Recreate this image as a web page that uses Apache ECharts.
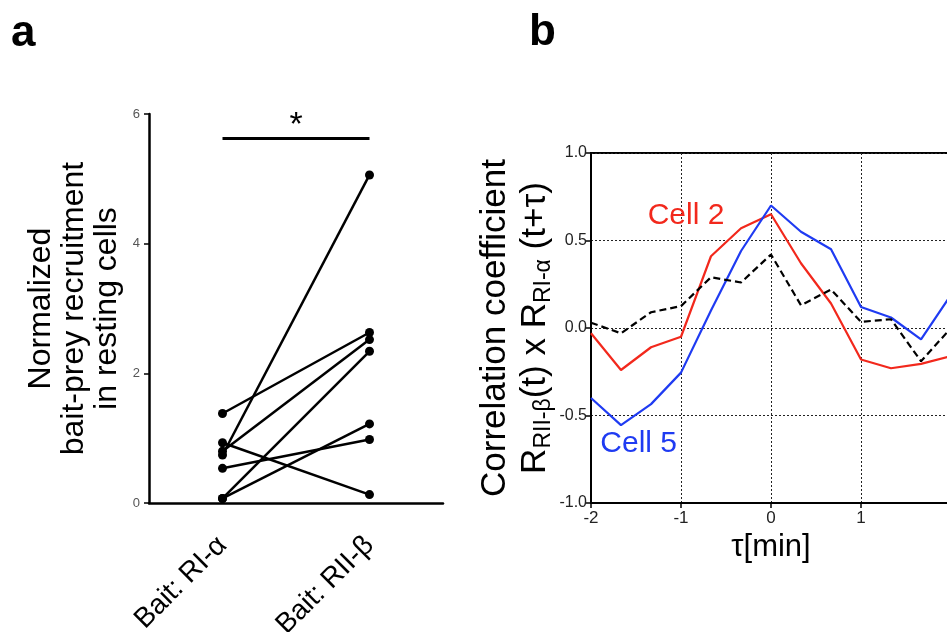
<!DOCTYPE html>
<html><head><meta charset="utf-8">
<script src="https://cdn.jsdelivr.net/npm/echarts@6/dist/echarts.min.js"></script>
<style>html,body{margin:0;padding:0;background:#fff}#c{width:947px;height:632px}</style>
</head><body><div id="c"></div>
<script>
// Panel a data
const baitCategories = ['Bait: RI-\u03b1', 'Bait: RII-\u03b2'];
const recruitRIalpha = [1.38, 0.93, 0.80, 0.74, 0.535, 0.07, 0.07];
const recruitRIIbeta = [2.63, 0.13, 2.52, 5.06, 0.98, 2.34, 1.22];
const significanceY = 5.63;
// Panel b data
const tauMin = [-2, -1.667, -1.333, -1, -0.667, -0.333, 0, 0.333, 0.667, 1, 1.333, 1.667, 2];
const cell2 = [-0.03, -0.24, -0.11, -0.05, 0.41, 0.57, 0.65, 0.37, 0.14, -0.18, -0.23, -0.205, -0.16];
const cell5 = [-0.40, -0.555, -0.435, -0.255, 0.10, 0.44, 0.70, 0.55, 0.45, 0.12, 0.06, -0.065, 0.19];
const meanCorr = [0.03, -0.03, 0.09, 0.125, 0.29, 0.26, 0.42, 0.13, 0.22, 0.035, 0.05, -0.19, 0.0];

const FF = "'Liberation Sans', Arial, Helvetica, sans-serif";
const chart = echarts.init(document.getElementById('c'), null, {renderer: 'canvas'});

const pairSeries = recruitRIalpha.map((v, i) => ({
  type: 'line', xAxisIndex: 0, yAxisIndex: 0,
  data: [v, recruitRIIbeta[i]],
  symbol: 'circle', symbolSize: 9,
  lineStyle: {color: '#000', width: 2.5},
  itemStyle: {color: '#000'},
  silent: true, z: 3
}));
pairSeries[0].markLine = {
  silent: true, symbol: 'none', animation: false,
  lineStyle: {color: '#000', width: 3, type: 'solid'},
  label: {show: true, position: 'middle', formatter: '*', fontSize: 34, color: '#000', fontFamily: FF, distance: -5},
  data: [[{coord: [baitCategories[0], significanceY]}, {coord: [baitCategories[1], significanceY]}]]
};

const bSeries = [
  {name: 'Cell 2', data: cell2, color: '#f2281c', type: 'solid',
   mp: {coord: [-0.944, 0.643], text: 'Cell 2'}},
  {name: 'Cell 5', data: cell5, color: '#1f3bf2', type: 'solid',
   mp: {coord: [-1.47, -0.66], text: 'Cell 5'}},
  {name: 'Mean', data: meanCorr, color: '#000', type: [7, 4]}
].map(s => {
  const o = {
    type: 'line', name: s.name, xAxisIndex: 1, yAxisIndex: 1,
    data: tauMin.map((t, i) => [t, s.data[i]]),
    symbol: 'none', lineStyle: {color: s.color, width: 2.2, type: s.type},
    itemStyle: {color: s.color}, silent: true, z: 3
  };
  if (s.mp) {
    o.markPoint = {
      silent: true, animation: false, symbol: 'rect', symbolSize: 1,
      itemStyle: {color: 'rgba(0,0,0,0)'},
      label: {show: true, position: 'inside', formatter: s.mp.text, color: s.color, fontSize: 30, fontFamily: FF},
      data: [{coord: s.mp.coord}]
    };
  }
  return o;
});

chart.setOption({
  animation: false,
  backgroundColor: '#fff',
  textStyle: {fontFamily: FF},
  grid: [
    {left: 149, top: 114, width: 294, height: 389, outerBoundsMode: 'none'},
    {left: 591, top: 153, width: 360, height: 350, show: true, borderColor: '#000', borderWidth: 2, outerBoundsMode: 'none'}
  ],
  graphic: [
    {type: 'text', left: 11, top: 12, style: {text: 'a', font: "bold 44px 'Liberation Sans Narrow', 'Liberation Sans', Arial", fill: '#000'}},
    {type: 'text', left: 529, top: 11, style: {text: 'b', font: "bold 44px 'Liberation Sans Narrow', 'Liberation Sans', Arial", fill: '#000'}}
  ],
  xAxis: [
    {gridIndex: 0, type: 'category', data: baitCategories, boundaryGap: true,
     axisLine: {lineStyle: {color: '#000', width: 2.5}},
     axisTick: {alignWithLabel: true, length: 7, lineStyle: {color: '#000', width: 2}},
     axisLabel: {rotate: 45, fontSize: 28, color: '#000', fontFamily: FF, margin: 38},
     splitLine: {show: false}},
    {gridIndex: 1, type: 'value', min: -2, max: 2, interval: 1,
     name: '\u03c4[min]', nameLocation: 'middle', nameGap: 28,
     nameTextStyle: {fontSize: 31, color: '#000', fontFamily: FF},
     axisLine: {onZero: false, lineStyle: {color: '#000', width: 2}},
     axisTick: {length: 5, lineStyle: {color: '#000', width: 1.5}},
     axisLabel: {fontSize: 17, color: '#222', fontFamily: FF, margin: 7},
     splitLine: {show: true, lineStyle: {color: '#222', width: 1, type: [2, 2]}}}
  ],
  yAxis: [
    {gridIndex: 0, type: 'value', min: 0, max: 6, interval: 2,
     name: 'Normalized\nbait-prey recruitment\nin resting cells', nameLocation: 'middle', nameRotate: 90, nameGap: 25,
     nameTextStyle: {fontSize: 32, lineHeight: 33, color: '#000', fontFamily: FF},
     axisLine: {show: true, onZero: false, lineStyle: {color: '#000', width: 2.5}},
     axisTick: {show: true, length: 5, lineStyle: {color: '#000', width: 1.5}},
     axisLabel: {fontSize: 13, color: '#555', fontFamily: FF, margin: 9},
     splitLine: {show: false}},
    {gridIndex: 1, type: 'value', min: -1, max: 1, interval: 0.5,
     name: 'Correlation coefficient\n{n|R}{s|RII-\u03b2}{n|(t) x R}{s|RI-\u03b1}{n| (t+\u03c4)}',
     nameLocation: 'middle', nameRotate: 90, nameGap: 32,
     nameTextStyle: {fontSize: 35, lineHeight: 40, color: '#000', fontFamily: FF,
       rich: {
         n: {fontSize: 35, lineHeight: 40, fontFamily: FF, color: '#000', verticalAlign: 'middle'},
         s: {fontSize: 23, lineHeight: 40, fontFamily: FF, color: '#000', verticalAlign: 'bottom'}
       }},
     axisLine: {show: true, onZero: false, lineStyle: {color: '#000', width: 2}},
     axisTick: {show: true, length: 5, lineStyle: {color: '#000', width: 1.5}},
     axisLabel: {fontSize: 16, color: '#222', fontFamily: FF, margin: 4, formatter: v => v.toFixed(1)},
     splitLine: {show: true, lineStyle: {color: '#222', width: 1, type: [2, 2]}}}
  ],
  series: pairSeries.concat(bSeries)
});
</script></body></html>
